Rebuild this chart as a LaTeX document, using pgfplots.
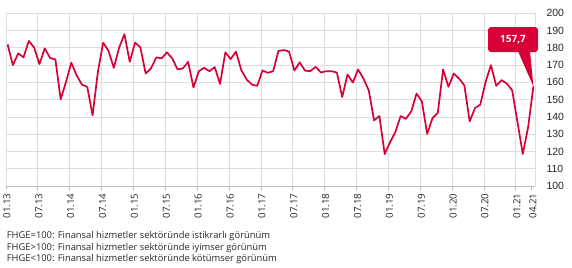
\documentclass[border=0pt]{standalone}
\usepackage{pgfplots}
\pgfplotsset{compat=1.18}
\usepackage{pgfplotstable}
\usepackage{fontspec}
\setmainfont{Open Sans}
\newfontfamily\arialf{Liberation Sans}
\definecolor{lred}{RGB}{215,0,55}
\definecolor{gridc}{RGB}{222,222,222}
\definecolor{axc}{RGB}{190,190,190}
\pgfplotstableread{
v
182.0
170.0
176.8
174.5
184.0
180.1
170.6
179.7
174.1
173.3
150.2
160.3
171.4
164.0
158.7
157.4
140.9
166.1
183.0
178.2
168.4
180.1
187.9
171.9
183.0
180.3
165.1
168.1
174.5
173.9
177.4
173.9
167.5
168.1
171.9
157.0
166.5
168.4
166.5
168.8
159.1
177.4
173.5
177.8
167.1
161.7
158.7
158.0
166.9
165.5
166.5
178.2
178.7
177.8
166.9
171.6
166.8
166.5
169.0
165.7
166.5
166.5
165.7
151.5
164.6
159.9
167.5
162.2
155.4
138.0
140.5
118.5
125.3
131.2
140.5
138.9
143.2
153.5
149.0
130.2
139.3
142.4
167.5
157.4
165.1
162.2
158.3
137.4
145.1
147.1
160.3
170.0
158.0
161.3
159.3
155.4
137.0
118.5
134.0
157.7
}\fhge
\begin{document}
\begin{tikzpicture}
\useasboundingbox (-6bp,-82bp) rectangle (566bp,186bp);
\begin{axis}[
  at={(0,0)}, anchor=south west,
  scale only axis,
  width=529bp, height=172.7bp,
  xmin=0, xmax=99.6,
  ymin=100, ymax=200,
  clip=false,
  axis x line=bottom,
  axis y line=right,
  axis line style={draw=axc, -},
  y axis line style={draw=gridc},
  xtick={0,6,...,96},
  xticklabels={01.13,07.13,01.14,07.14,01.15,07.15,01.16,07.16,01.17,07.17,01.18,07.18,01.19,07.19,01.20,07.20,01.21},
  extra x ticks={99},
  extra x tick labels={04.21},
  extra x tick style={grid=none},
  ytick={100,110,...,200},
  grid=major,
  grid style={gridc, line width=0.8bp},
  x tick style={draw=axc, line width=0.8bp},
  xtick align=outside,
  major tick length=4bp,
  y tick style={draw=none},
  /pgf/number format/assume math mode=true,
  xticklabel style={rotate=90, anchor=east, font=\fontsize{9.8}{10}\selectfont, text=black!85, yshift=-1bp},
  yticklabel style={anchor=west, font=\arialf\fontsize{10.5}{11}\selectfont, text=black!85, xshift=6bp},
  yticklabel pos=right,
]
\addplot[lred, line width=1.7bp, line join=round, mark=none] table[x expr=\coordindex+0.3, y=v] {\fhge};
\fill[lred] (axis cs:96.4,178) -- (axis cs:98.66,178) -- (axis cs:99.3,157.7) -- cycle;
\node[fill=lred, rounded corners=3bp, minimum width=50bp, minimum height=25bp, inner sep=0pt, text=white, font=\bfseries\fontsize{10}{11}\selectfont] at (axis cs:95.46,184.8) {157,7};
\end{axis}
\node[anchor=west, font=\fontsize{9.4}{10}\selectfont, text=black!85, inner sep=0pt] at (0.7bp,-50.5bp) {FHGE=100: Finansal hizmetler sektöründe istikrarlı görünüm};
\node[anchor=west, font=\fontsize{9.4}{10}\selectfont, text=black!85, inner sep=0pt] at (0.7bp,-61.8bp) {FHGE>100: Finansal hizmetler sektöründe iyimser görünüm};
\node[anchor=west, font=\fontsize{9.4}{10}\selectfont, text=black!85, inner sep=0pt] at (0.7bp,-73bp) {FHGE<100: Finansal hizmetler sektöründe kötümser görünüm};
\end{tikzpicture}
\end{document}
